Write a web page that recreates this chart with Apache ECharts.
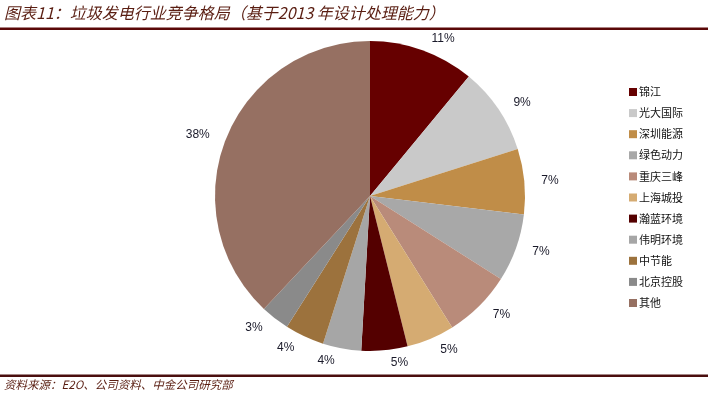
<!DOCTYPE html>
<html>
<head>
<meta charset="utf-8">
<script src="https://cdn.jsdelivr.net/npm/echarts@6/dist/echarts.min.js"></script>
<style>
html,body{margin:0;padding:0;background:#fff;}
#chart{width:708px;height:397px;}
</style>
</head>
<body>
<div id="chart"></div>
<script>
var categories = ['锦江','光大国际','深圳能源','绿色动力','重庆三峰','上海城投','瀚蓝环境','伟明环境','中节能','北京控股','其他'];
var values = [11.0, 9.1, 6.8, 7.1, 7.1, 5.0, 4.8, 4.0, 4.1, 3.0, 38.0];
var colors = ['#660000','#C9C9C9','#C08D48','#A8A8A8','#B98B7A','#D5AB72','#540000','#A6A6A6','#9C723D','#8A8A8A','#967062'];
var titleText = '图表11：垃圾发电行业竞争格局（基于2013 年设计处理能力）';
var sourceText = '资料来源：E2O、公司资料、中金公司研究部';

var chart = echarts.init(document.getElementById('chart'));
var data = categories.map(function(c,i){ return {name:c, value:values[i], itemStyle:{color:colors[i]}}; });
chart.setOption({
  animation:false,
  backgroundColor:'#ffffff',
  graphic:[
    {type:'text', left:4, top:5, style:{text:titleText, fill:'#5a1e12', font:'italic 16px "Noto Sans CJK SC", sans-serif'}},
    {type:'rect', shape:{x:0,y:27.5,width:708,height:2.5}, style:{fill:'#5a0808'}},
    {type:'rect', shape:{x:0,y:374.5,width:708,height:2.5}, style:{fill:'#4a0e0e'}},
    {type:'text', left:4, top:379, style:{text:sourceText, fill:'#5a1e12', font:'italic 11.5px "Noto Sans CJK SC", sans-serif'}}
  ],
  legend:{
    orient:'vertical', left:624, top:81,
    itemWidth:8, itemHeight:8, itemGap:9.1, icon:'rect',
    textStyle:{fontFamily:'"Noto Sans CJK SC"', fontSize:11, color:'#111', lineHeight:12, padding:[0,0,0,-3]},
    data:categories
  },
  series:[{
    type:'pie',
    center:[370,196], radius:155,
    startAngle:90, clockwise:true,
    avoidLabelOverlap:false,
    data:data,
    label:{show:true, position:'outside', formatter:function(p){return Math.round(p.percent)+'%';},
      fontFamily:'"Liberation Sans", Arial', fontSize:12, color:'#1a1a2a'},
    labelLine:{show:false, length:12, length2:0},
    emphasis:{disabled:true}
  }]
});
</script>
</body>
</html>
